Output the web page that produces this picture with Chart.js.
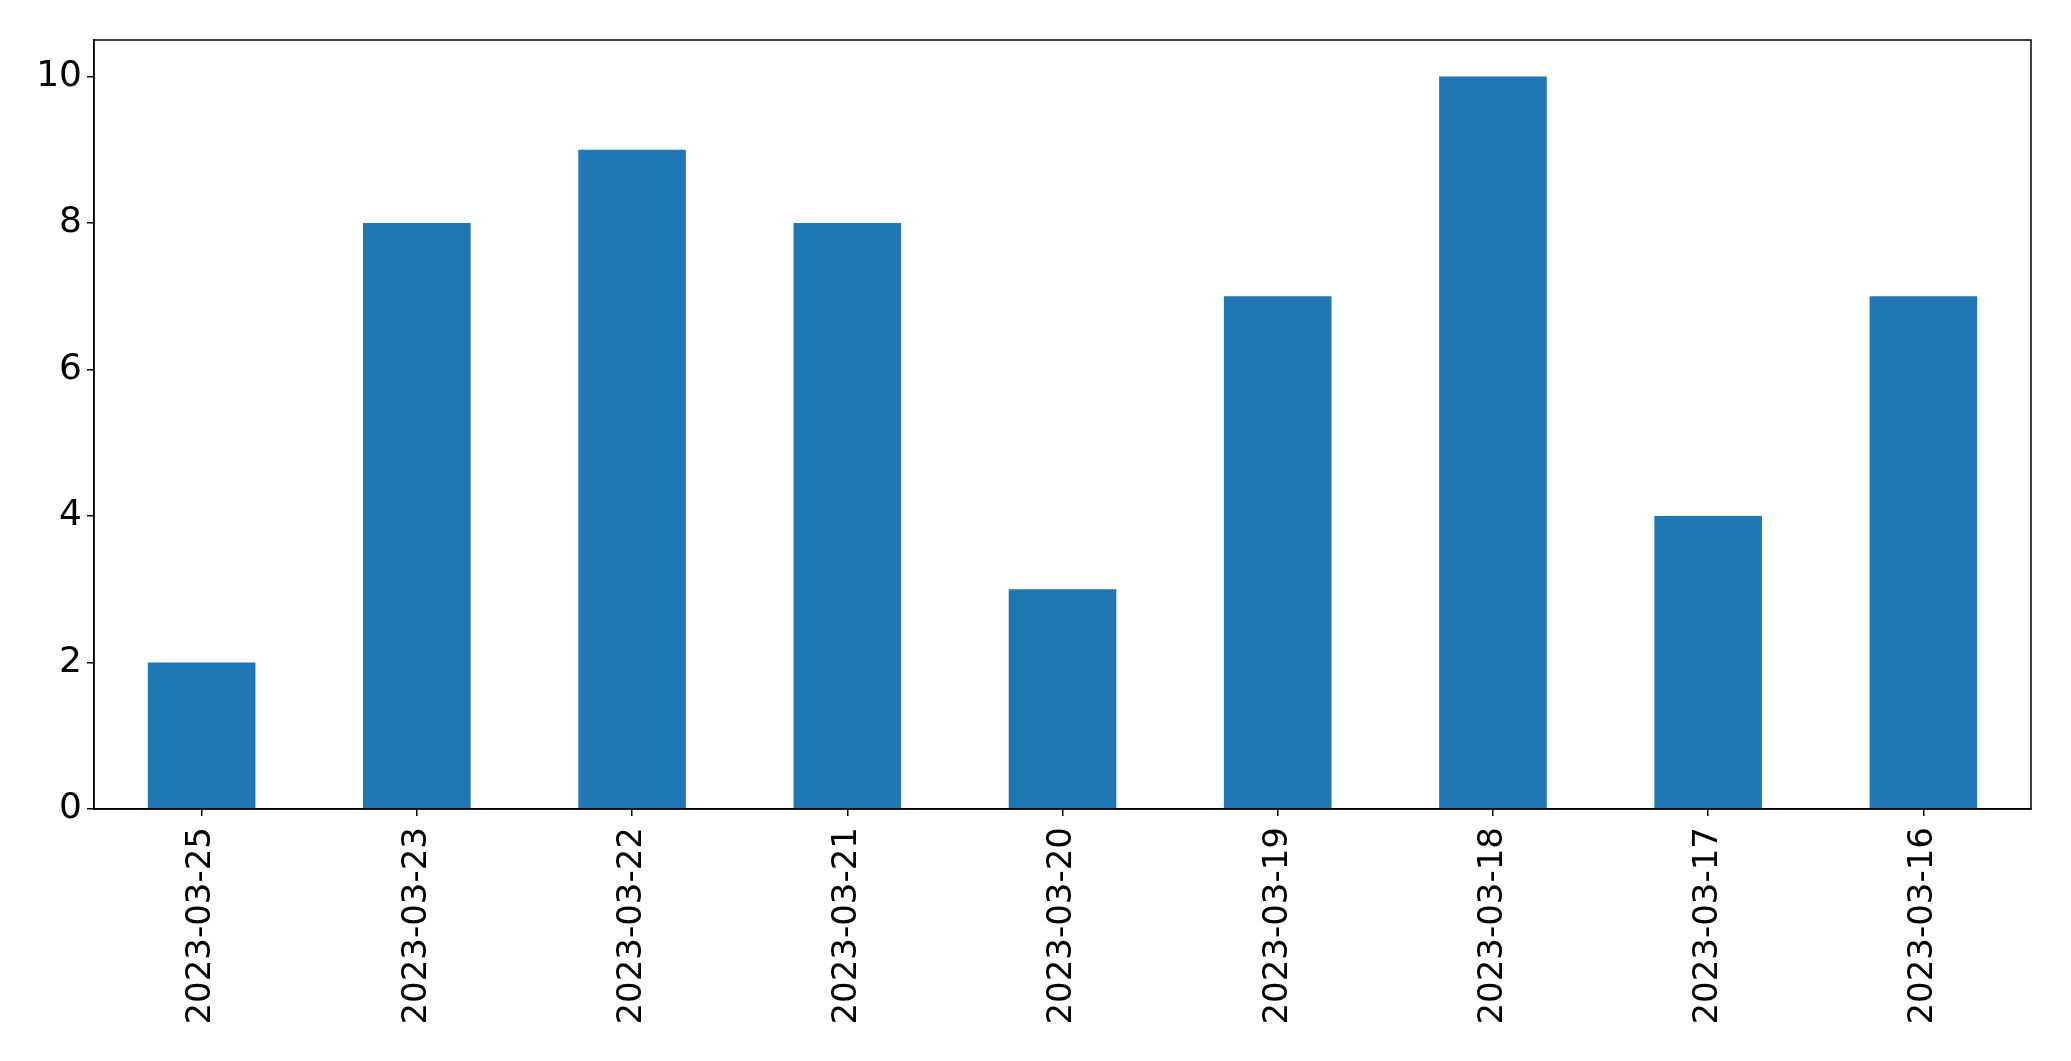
<!DOCTYPE html>
<html>
<head>
<meta charset="utf-8">
<script src="https://cdn.jsdelivr.net/npm/chart.js@4/dist/chart.umd.min.js"></script>
<style>
  html, body { margin: 0; padding: 0; background: #ffffff; }
  #wrap { width: 2071px; height: 1061px; position: relative; }
</style>
</head>
<body>
<div id="wrap"><canvas id="c" width="2071" height="1061"></canvas></div>
<script>
const categories = ["2023-03-25", "2023-03-23", "2023-03-22", "2023-03-21", "2023-03-20", "2023-03-19", "2023-03-18", "2023-03-17", "2023-03-16"];
const counts = [2, 8, 9, 8, 3, 7, 10, 4, 7];
const yTicks = [0, 2, 4, 6, 8, 10];

const frame = {
  id: 'frame',
  afterDatasetsDraw(chart) {
    const a = chart.chartArea, ctx = chart.ctx;
    ctx.save();
    ctx.strokeStyle = '#000';
    ctx.lineWidth = 1.5;
    ctx.strokeRect(a.left, a.top, a.right - a.left, a.bottom - a.top);
    ctx.restore();
  }
};

new Chart(document.getElementById('c'), {
  type: 'bar',
  data: {
    labels: categories,
    datasets: [{
      data: counts,
      backgroundColor: '#1f77b4',
      borderWidth: 0,
      barPercentage: 0.5,
      categoryPercentage: 1.0
    }]
  },
  options: {
    responsive: false,
    animation: false,
    layout: { padding: { top: 40, right: 40, bottom: 0, left: 0 } },
    plugins: { legend: { display: false }, tooltip: { enabled: false } },
    scales: {
      x: {
        type: 'category',
        offset: true,
        grid: { display: true, drawOnChartArea: false, drawTicks: true, tickLength: 7, color: '#000', lineWidth: 1.5, offset: false },
        border: { display: true, color: '#000', width: 1.5 },
        ticks: { color: '#000', font: { family: 'DejaVu Sans', size: 34 }, minRotation: 90, maxRotation: 90, padding: 11, autoSkip: false },
        afterFit(s) { s.height = 252; }
      },
      y: {
        min: 0,
        max: 10.5,
        grid: { display: true, drawOnChartArea: false, drawTicks: true, tickLength: 7, color: '#000', lineWidth: 1.5 },
        border: { display: true, color: '#000', width: 1.5 },
        ticks: { color: '#000', font: { family: 'DejaVu Sans', size: 36 }, stepSize: 2, includeBounds: false, padding: 5 },
        afterBuildTicks(s) { s.ticks = yTicks.map(v => ({ value: v })); },
        afterFit(s) { s.width = 94; }
      }
    }
  },
  plugins: [frame]
});
</script>
</body>
</html>
